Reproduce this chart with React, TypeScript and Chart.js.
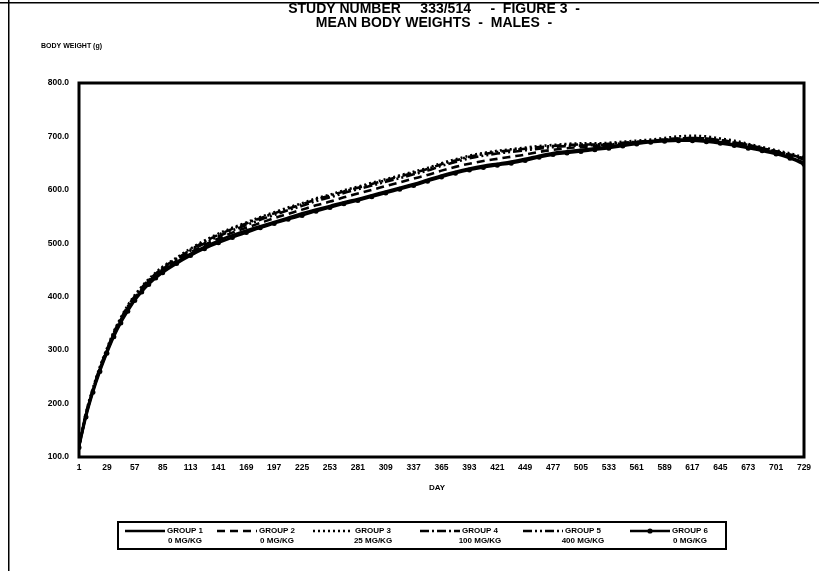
import React, { useEffect, useRef } from "react";
import { Chart, registerables } from "chart.js";

Chart.register(...registerables);

// Weighing days (weekly to day 85, then every two weeks)
const days = [
  1, 8, 15, 22, 29, 36, 43, 50, 57, 64, 71, 78, 85, 99, 113, 127, 141, 155, 169, 183, 197, 211, 225, 239,
  253, 267, 281, 295, 309, 323, 337, 351, 365, 379, 393, 407, 421, 435, 449, 463, 477, 491, 505, 519, 533,
  547, 561, 575, 589, 603, 617, 631, 645, 659, 673, 687, 701, 715, 729,
];

// Mean body weights (g) per group
const group1 = [
  120, 178, 224, 263, 297, 328, 354, 377, 396, 412, 426, 438, 448, 465, 480, 493, 505, 515, 524, 532, 540, 548,
  556, 563, 570, 577, 583, 590, 597, 604, 611, 619, 627, 634, 640, 645, 649, 653, 658, 664, 669, 672, 675, 678,
  681, 685, 689, 691, 693, 694, 694, 692, 689, 685, 680, 675, 669, 661, 651,
];
const group2 = [
  120, 179, 225, 265, 299, 330, 356, 379, 398, 414, 428, 440, 450, 467, 483, 497, 509, 520, 529, 538, 547, 555,
  563, 571, 578, 586, 593, 600, 607, 614, 621, 628, 636, 643, 649, 654, 658, 662, 666, 671, 675, 678, 680, 682,
  684, 686, 689, 691, 694, 696, 697, 696, 693, 689, 684, 678, 672, 665, 657,
];
const group3 = [
  122, 183, 229, 269, 303, 335, 361, 384, 403, 419, 433, 445, 456, 473, 490, 505, 518, 529, 539, 549, 558, 567,
  575, 584, 591, 599, 606, 613, 620, 627, 634, 641, 650, 657, 664, 669, 673, 676, 679, 682, 684, 686, 687, 687,
  688, 690, 692, 694, 697, 700, 701, 700, 696, 692, 686, 680, 674, 668, 661,
];
const group4 = [
  121, 181, 227, 267, 301, 333, 359, 382, 401, 417, 431, 443, 454, 471, 488, 503, 516, 527, 537, 547, 556, 565,
  573, 582, 589, 597, 604, 611, 618, 625, 632, 639, 648, 655, 662, 667, 671, 674, 677, 680, 682, 684, 685, 685,
  686, 688, 690, 692, 694, 696, 697, 696, 693, 689, 684, 678, 672, 666, 659,
];
const group5 = [
  120, 180, 226, 266, 299, 331, 357, 380, 399, 415, 429, 441, 452, 469, 486, 500, 513, 524, 534, 544, 553, 562,
  570, 579, 586, 594, 601, 608, 615, 622, 629, 636, 645, 652, 659, 664, 668, 671, 674, 677, 680, 682, 683, 684,
  685, 687, 689, 691, 693, 695, 696, 695, 692, 688, 683, 677, 671, 665, 658,
];
const group6 = [
  118, 175, 221, 260, 294, 325, 351, 373, 393, 409, 423, 435, 445, 462, 477, 490, 501, 511, 520, 529, 537, 545,
  552, 560, 567, 574, 580, 587, 594, 601, 608, 616, 624, 631, 637, 642, 646, 650, 655, 661, 666, 669, 672, 675,
  678, 682, 686, 689, 691, 692, 692, 690, 687, 683, 678, 673, 667, 659, 648,
];

const yTicks = [100, 200, 300, 400, 500, 600, 700, 800];
const xTicks = [
  1, 29, 57, 85, 113, 141, 169, 197, 225, 253, 281, 309, 337, 365, 393, 421, 449, 477, 505, 533, 561, 589, 617,
  645, 673, 701, 729,
];

const groupNames = ["GROUP 1", "GROUP 2", "GROUP 3", "GROUP 4", "GROUP 5", "GROUP 6"];
const groupDoses = ["0 MG/KG", "0 MG/KG", "25 MG/KG", "100 MG/KG", "400 MG/KG", "0 MG/KG"];
const groupDashes: number[][] = [[], [8, 5], [2, 3], [9, 3, 2, 3], [9, 3, 2, 3, 2, 3], []];
const seriesValues = [group1, group2, group3, group4, group5, group6];

const titleLines = ["STUDY NUMBER     333/514     -  FIGURE 3  -", "MEAN BODY WEIGHTS  -  MALES  -"];
const yAxisTitle = "BODY WEIGHT (g)";
const xAxisTitle = "DAY";

const FONT = "'Liberation Sans', Arial, sans-serif";

const decorPlugin = {
  id: "decor",
  afterDraw(chart: any) {
    const ctx = chart.ctx as CanvasRenderingContext2D;
    const area = chart.chartArea;
    ctx.save();
    ctx.fillStyle = "#000";
    ctx.strokeStyle = "#000";

    // page frame lines
    ctx.fillRect(8, 0, 1.5, chart.height);
    ctx.fillRect(0, 2, chart.width, 1.5);

    // plot frame
    ctx.lineWidth = 3;
    ctx.setLineDash([]);
    ctx.strokeRect(area.left, area.top, area.right - area.left, area.bottom - area.top);

    // title
    ctx.font = `900 14px ${FONT}`;
    ctx.textAlign = "center";
    ctx.textBaseline = "middle";
    const cx = 434;
    ctx.fillText(titleLines[0], cx, 9);
    ctx.fillText(titleLines[1], cx, 23);

    // axis titles
    ctx.font = `bold 7px ${FONT}`;
    ctx.textAlign = "left";
    ctx.fillText(yAxisTitle, 41, 46);
    ctx.font = `bold 8px ${FONT}`;
    ctx.textAlign = "center";
    ctx.fillText(xAxisTitle, 437, 488);

    // legend box
    const bx = 118, by = 522, bw = 608, bh = 27;
    ctx.lineWidth = 2;
    ctx.strokeRect(bx, by, bw, bh);
    const starts = [125, 217, 313, 420, 523, 630];
    const ly = 531;
    for (let i = 0; i < 6; i++) {
      const x0 = starts[i];
      ctx.lineWidth = 2.4;
      ctx.setLineDash(groupDashes[i]);
      ctx.beginPath();
      ctx.moveTo(x0, ly);
      ctx.lineTo(x0 + 40, ly);
      ctx.stroke();
      ctx.setLineDash([]);
      if (i === 5) {
        ctx.beginPath();
        ctx.arc(x0 + 20, ly, 2.6, 0, Math.PI * 2);
        ctx.fill();
      }
      ctx.font = `bold 8px ${FONT}`;
      ctx.textAlign = "left";
      ctx.textBaseline = "middle";
      const nameW = ctx.measureText(groupNames[i]).width;
      ctx.fillText(groupNames[i], x0 + 42, ly);
      ctx.textAlign = "center";
      ctx.fillText(groupDoses[i], x0 + 42 + nameW / 2, ly + 10);
    }
    ctx.restore();
  },
};

export default function App() {
  const canvasRef = useRef<HTMLCanvasElement | null>(null);

  useEffect(() => {
    if (!canvasRef.current) return;
    const datasets = seriesValues.map((vals, i) => ({
      label: groupNames[i],
      data: days.map((d, k) => ({ x: d, y: vals[k] })),
      borderColor: "#000",
      backgroundColor: "#000",
      borderWidth: 2.6,
      borderDash: groupDashes[i],
      pointRadius: i === 5 ? 2.5 : 0,
      pointBorderWidth: 0,
      pointBackgroundColor: "#000",
      cubicInterpolationMode: "monotone" as const,
      fill: false,
    }));

    const chart = new Chart(canvasRef.current, {
      type: "line",
      data: { datasets },
      options: {
        animation: false,
        responsive: false,
        maintainAspectRatio: false,
        layout: { padding: { left: 0, right: 15, top: 83, bottom: 74 } },
        plugins: {
          legend: { display: false },
          title: { display: false },
          tooltip: { enabled: false },
        },
        scales: {
          x: {
            type: "linear",
            min: 1,
            max: 729,
            afterBuildTicks: (s: any) => {
              s.ticks = xTicks.map((v) => ({ value: v }));
            },
            afterFit: (s: any) => {
              s.height = 40;
            },
            grid: { display: false, drawTicks: false },
            border: { display: false },
            ticks: {
              color: "#000",
              font: { family: FONT, size: 8.5, weight: "bold" },
              padding: 6,
              autoSkip: false,
              maxRotation: 0,
              minRotation: 0,
              callback: (v: any) => String(v),
            },
          },
          y: {
            type: "linear",
            min: 100,
            max: 800,
            afterBuildTicks: (s: any) => {
              s.ticks = yTicks.map((v) => ({ value: v }));
            },
            afterFit: (s: any) => {
              s.width = 79;
            },
            grid: { display: false, drawTicks: false },
            border: { display: false },
            ticks: {
              color: "#000",
              font: { family: FONT, size: 8.5, weight: "bold" },
              padding: 10,
              callback: (v: any) => Number(v).toFixed(1),
            },
          },
        },
      },
      plugins: [decorPlugin],
    });
    return () => chart.destroy();
  }, []);

  return (
    <div style={{ position: "fixed", left: 0, top: 0, width: 819, height: 571, background: "#fff" }}>
      <canvas ref={canvasRef} width={819} height={571} style={{ width: 819, height: 571 }} />
    </div>
  );
}
